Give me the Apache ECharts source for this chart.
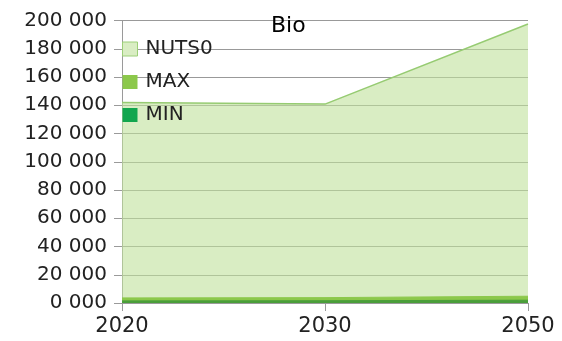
<!DOCTYPE html>
<html><head><meta charset="utf-8">
<script src="https://cdn.jsdelivr.net/npm/echarts@6/dist/echarts.min.js"></script>
<style>html,body{margin:0;padding:0;background:#fff}#c{width:562px;height:341px}</style>
</head><body><div id="c"></div>
<script>
const categories = ['2020', '2030', '2050'];
const nuts0 = [142000, 140800, 197500];
const maxVals = [3600, 3800, 4800];
const minVals = [1500, 1600, 2000];
const seriesNames = ['NUTS0', 'MAX', 'MIN'];
const titleText = 'Bio';

const FONT = 'DejaVu Sans';
const chart = echarts.init(document.getElementById('c'), null, {renderer: 'canvas'});
chart.setOption({
  animation: false,
  backgroundColor: '#fff',
  title: {text: titleText, left: 271, top: 15, padding: 0,
    textStyle: {color: '#000', fontSize: 22, fontWeight: 'normal', fontFamily: FONT}},
  legend: {
    orient: 'vertical', left: 122, top: 39, padding: 0, itemGap: 13,
    itemWidth: 15, itemHeight: 14, icon: 'rect',
    textStyle: {color: '#222', fontSize: 20, fontFamily: FONT, padding: [0, 0, 0, 3]},
    data: [
      {name: seriesNames[0], itemStyle: {color: '#d9edc3', borderColor: '#9ccf78', borderWidth: 1}},
      {name: seriesNames[1], itemStyle: {color: '#8cc84b'}},
      {name: seriesNames[2], itemStyle: {color: '#12a64e'}}
    ]
  },
  grid: {left: 122, right: 34, top: 20.5, bottom: 38},
  xAxis: {
    type: 'category', data: categories, boundaryGap: false,
    axisLine: {lineStyle: {color: '#9a9a9a'}},
    axisTick: {show: true, length: 8, lineStyle: {color: '#9a9a9a'}},
    axisLabel: {color: '#222', fontSize: 21, fontFamily: FONT, margin: 13}
  },
  yAxis: {
    type: 'value', min: 0, max: 200000, interval: 20000,
    axisLine: {show: true, lineStyle: {color: '#9a9a9a'}},
    axisTick: {show: true, length: 8, lineStyle: {color: '#9a9a9a'}},
    splitLine: {lineStyle: {color: '#999', width: 1}},
    axisLabel: {color: '#222', fontSize: 20, fontFamily: FONT, margin: 15,
      formatter: v => Math.floor(v / 1000) + ' 000'}
  },
  series: [
    {name: seriesNames[0], type: 'line', data: nuts0, symbol: 'none', z: 2,
      lineStyle: {color: '#96cb72', width: 1.5},
      itemStyle: {color: '#d9edc3'},
      areaStyle: {color: 'rgb(192,225,155)', opacity: 0.6}},
    {name: seriesNames[1], type: 'line', data: maxVals, symbol: 'none', z: 3,
      lineStyle: {color: '#8cc84b', width: 1},
      itemStyle: {color: '#8cc84b'},
      areaStyle: {color: '#8cc84b', opacity: 1}},
    {name: seriesNames[2], type: 'line', data: minVals, symbol: 'none', z: 4,
      lineStyle: {color: '#4a9e3a', width: 1},
      itemStyle: {color: '#12a64e'},
      areaStyle: {color: '#4a9e3a', opacity: 1}}
  ]
});
</script></body></html>
